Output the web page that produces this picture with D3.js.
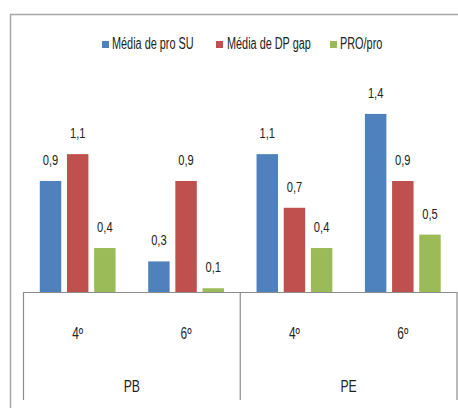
<!DOCTYPE html>
<html>
<head>
<meta charset="utf-8">
<script src="https://cdn.jsdelivr.net/npm/d3@7"></script>
<style>
  html, body { margin: 0; padding: 0; background: #fff; }
  svg { display: block; }
  text { font-family: "Liberation Sans", Arial, sans-serif; fill: #222; }
</style>
</head>
<body>
<svg id="chart" width="458" height="408"></svg>
<script>
// ---- data ----
const categories = ["PB-4º", "PB-6º", "PE-4º", "PE-6º"];
const tickLabels = ["4º", "6º", "4º", "6º"];
const groups = ["PB", "PE"];
const seriesNames = ["Média de pro SU", "Média de DP gap", "PRO/pro"];
const seriesColors = ["#4F81BD", "#C0504D", "#9BBB59"];
const mediaProSU = [0.9, 0.3, 1.1, 1.4];
const mediaDPgap = [1.1, 0.9, 0.7, 0.9];
const proPro = [0.4, 0.1, 0.4, 0.5];
const seriesValues = [mediaProSU, mediaDPgap, proPro];

// ---- layout ----
const svg = d3.select("#chart");
const plotLeft = 23.5, plotRight = 457, baseY = 292, boxBottom = 400;

const x = d3.scaleBand().domain(categories).range([plotLeft, plotRight]).paddingInner(0).paddingOuter(0);
const x1 = d3.scaleBand().domain(seriesNames).range([0, x.bandwidth()]).paddingInner(0.21).paddingOuter(0.6);
const y = d3.scaleLinear().domain([0.072, 1.6]).range([baseY, baseY - (1.6 - 0.072) * 134.1]);

function narrowText(sel, tx, ty, size, sq, anchor, str) {
  return sel.append("text")
    .attr("transform", `translate(${tx},${ty}) scale(${sq},1)`)
    .attr("text-anchor", anchor)
    .attr("font-size", size)
    .text(str);
}

// outer chart border
svg.append("rect")
  .attr("x", 10.5).attr("y", 14.5).attr("width", 460).attr("height", 400)
  .attr("fill", "none").attr("stroke", "#a6a6a6").attr("stroke-width", 1.5);

// legend
const legendItems = [
  { x: 102, tx: 112 },
  { x: 216, tx: 227 },
  { x: 330, tx: 340 }
];
const legend = svg.append("g");
seriesNames.forEach((name, i) => {
  legend.append("rect")
    .attr("x", legendItems[i].x).attr("y", 41).attr("width", 7).attr("height", 7)
    .attr("fill", seriesColors[i]);
  narrowText(legend, legendItems[i].tx, 49, 16, 0.68, "start", name);
});

// bars
const gBars = svg.append("g");
seriesValues.forEach((vals, si) => {
  const data = vals.map((v, ci) => ({ v, c: categories[ci] }));
  gBars.selectAll(".s" + si)
    .data(data)
    .join("rect")
    .attr("x", d => x(d.c) + x1(seriesNames[si]))
    .attr("y", d => y(d.v))
    .attr("width", x1.bandwidth())
    .attr("height", d => baseY - y(d.v))
    .attr("fill", seriesColors[si]);
  data.forEach(d => {
    narrowText(gBars, x(d.c) + x1(seriesNames[si]) + x1.bandwidth() / 2, y(d.v) - 16,
      15.5, 0.72, "middle", d3.format(".1f")(d.v).replace(".", ","));
  });
});

// category axis
const axis = d3.axisBottom(x).tickSize(0).tickPadding(34)
  .tickFormat((d, i) => tickLabels[i]);
const gAxis = svg.append("g").attr("transform", `translate(0,${baseY})`).call(axis);
gAxis.select(".domain").remove();
gAxis.selectAll("text")
  .attr("font-size", 16.5).attr("font-family", null).attr("fill", "#222")
  .attr("dy", null).attr("y", 47)
  .attr("transform", "scale(0.72,1)");

// category box lines
const lineColor = "#8c8c8c";
svg.append("line").attr("x1", plotLeft).attr("x2", plotRight).attr("y1", baseY + 0.5).attr("y2", baseY + 0.5)
  .attr("stroke", lineColor).attr("stroke-width", 1.2);
const dividers = [plotLeft, x(categories[2]), plotRight];
svg.selectAll(".div").data(dividers).join("line")
  .attr("x1", d => d).attr("x2", d => d)
  .attr("y1", baseY).attr("y2", boxBottom)
  .attr("stroke", lineColor).attr("stroke-width", 1.2);

// group labels
groups.forEach((g, gi) => {
  const c0 = categories[gi * 2], c1 = categories[gi * 2 + 1];
  const cx = (x(c0) + x(c1) + x.bandwidth()) / 2;
  narrowText(svg, cx, 391.5, 17, 0.72, "middle", g);
});
</script>
</body>
</html>
